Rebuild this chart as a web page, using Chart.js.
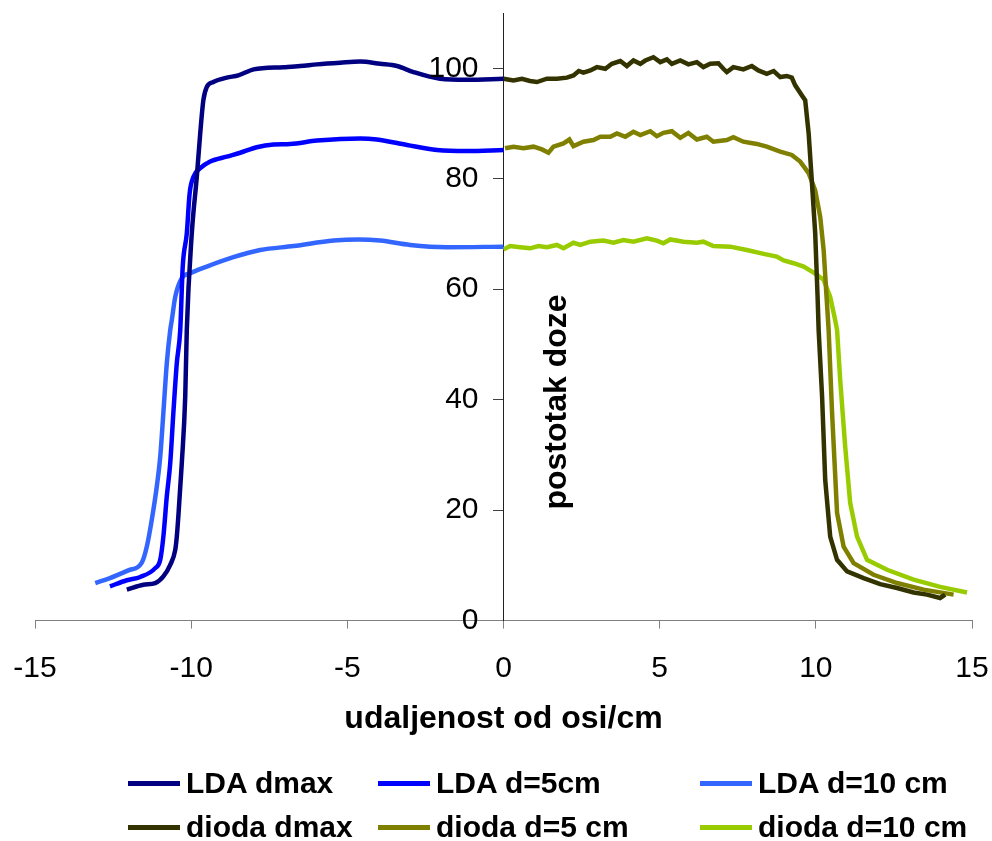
<!DOCTYPE html>
<html>
<head>
<meta charset="utf-8">
<script src="https://cdn.jsdelivr.net/npm/chart.js@4"></script>
<style>
  html, body { margin: 0; padding: 0; background: #fff; }
  #wrap { position: relative; width: 992px; height: 841px; }
  #legend { position: absolute; left: 0; top: 761px; width: 992px; font-family: "Liberation Sans", Arial, sans-serif; font-weight: bold; font-size: 30px; color: #000; }
  .item { position: absolute; height: 44px; display: flex; align-items: center; white-space: nowrap; }
  .swatch { width: 52px; height: 5px; margin-right: 6px; }
</style>
</head>
<body>
<div id="wrap">
  <canvas id="c" width="992" height="841"></canvas>
  <div id="legend"></div>
</div>
<script>
// ---- Data ----
const xTitle = 'udaljenost od osi/cm';
const yTitle = 'postotak doze';
const xTicks = [-15, -10, -5, 0, 5, 10, 15];
const yTicks = [0, 20, 40, 60, 80, 100];

const seriesNames = ['LDA dmax', 'LDA d=5cm', 'LDA d=10 cm', 'dioda dmax', 'dioda d=5 cm', 'dioda d=10 cm'];
const seriesColors = ['#000080', '#0000FF', '#3366FF', '#333300', '#808000', '#99CC00'];

const ldaDmaxX = [-12.06, -11.53, -11.15, -10.89, -10.67, -10.51, -10.46, -10.41, -10.30, -10.19, -10.14, -9.98, -9.82, -9.71, -9.61, -9.50, -9.29, -8.86, -8.49, -8.0, -7.04, -6.51, -5.97, -5.23, -4.59, -3.95, -3.41, -2.88, -2.03, -1.17, 0];
const ldaDmaxY = [5.6, 6.5, 6.8, 8.0, 10.1, 12.8, 15.2, 18.9, 28.5, 40.6, 52.6, 70.1, 80.3, 88.2, 94.2, 96.6, 97.5, 98.3, 98.7, 99.8, 100.2, 100.4, 100.7, 101.0, 101.2, 100.8, 100.4, 99.3, 98.1, 97.9, 98.1];

const lda5X = [-12.60, -12.06, -11.63, -11.15, -10.99, -10.89, -10.78, -10.67, -10.57, -10.46, -10.35, -10.27, -10.14, -10.05, -9.93, -9.71, -9.39, -8.86, -8.43, -7.90, -7.36, -6.83, -5.97, -4.59, -4.05, -3.09, -2.13, -1.17, 0];
const lda5Y = [6.2, 7.3, 7.9, 9.5, 11.0, 15.2, 22.5, 28.5, 37.6, 46.6, 52.6, 64.1, 70.1, 77.3, 80.3, 81.9, 83.1, 84.0, 84.7, 85.7, 86.2, 86.3, 86.9, 87.3, 87.1, 86.1, 85.2, 85.0, 85.2];

const lda10X = [-13.07, -12.60, -12.01, -11.58, -11.42, -11.26, -11.10, -10.99, -10.89, -10.78, -10.67, -10.62, -10.51, -10.30, -10.03, -9.50, -8.65, -7.79, -6.72, -5.44, -4.64, -3.95, -2.99, -1.81, 0];
const lda10Y = [6.8, 7.7, 9.1, 10.5, 13.4, 18.3, 24.3, 29.7, 37.6, 46.6, 52.6, 54.4, 58.6, 62.0, 62.9, 64.1, 65.8, 67.1, 67.8, 68.8, 69.0, 68.8, 68.0, 67.6, 67.7];

const diodeDmaxX = [0.0, 0.32, 0.59, 0.85, 1.07, 1.39, 1.71, 2.03, 2.24, 2.41, 2.56, 2.78, 2.99, 3.26, 3.47, 3.74, 3.95, 4.16, 4.38, 4.54, 4.80, 5.02, 5.23, 5.39, 5.66, 5.92, 6.19, 6.40, 6.62, 6.88, 7.04, 7.15, 7.36, 7.68, 7.95, 8.16, 8.43, 8.65, 8.86, 9.07, 9.23, 9.34, 9.55, 9.66, 9.77, 9.87, 9.98, 10.06, 10.09, 10.20, 10.30, 10.46, 10.68, 11.00, 11.53, 12.06, 12.60, 13.13, 13.56, 13.98, 14.14];
const diodeDmaxY = [98.1, 97.8, 98.1, 97.7, 97.5, 98.1, 98.1, 98.3, 98.7, 99.5, 99.2, 99.6, 100.2, 99.9, 100.8, 101.3, 100.4, 101.4, 100.8, 101.4, 102.0, 101.1, 101.6, 100.8, 101.4, 100.7, 101.1, 100.2, 100.8, 100.9, 99.9, 99.3, 100.2, 99.8, 100.4, 99.6, 99.0, 99.5, 98.4, 98.6, 98.3, 96.9, 95.1, 94.2, 88.2, 79.7, 70.1, 58.0, 52.6, 40.6, 25.5, 15.2, 11.0, 8.9, 7.7, 6.6, 5.9, 5.1, 4.7, 4.1, 4.7];

const diode5X = [0.05, 0.32, 0.64, 0.96, 1.23, 1.44, 1.60, 1.92, 2.11, 2.24, 2.56, 2.88, 3.10, 3.42, 3.63, 3.90, 4.16, 4.38, 4.70, 4.91, 5.12, 5.39, 5.66, 5.92, 6.19, 6.51, 6.72, 7.15, 7.36, 7.68, 8.11, 8.43, 8.86, 9.23, 9.50, 9.77, 9.98, 10.14, 10.25, 10.35, 10.41, 10.52, 10.68, 10.89, 11.21, 11.85, 12.60, 13.45, 14.41];
const diode5Y = [85.5, 85.8, 85.5, 85.8, 85.3, 84.7, 85.8, 86.4, 87.1, 85.9, 86.7, 87.0, 87.6, 87.6, 88.2, 87.6, 88.5, 87.9, 88.6, 87.7, 88.3, 88.6, 87.4, 88.3, 87.1, 87.6, 86.7, 87.0, 87.5, 86.7, 86.3, 85.8, 84.9, 84.3, 83.1, 81.0, 77.9, 73.1, 67.1, 58.0, 52.6, 37.6, 19.5, 13.4, 10.4, 8.3, 6.8, 5.6, 4.7];

const diode10X = [0.0, 0.21, 0.53, 0.85, 1.12, 1.39, 1.71, 1.92, 2.24, 2.46, 2.78, 3.20, 3.52, 3.84, 4.16, 4.59, 4.91, 5.12, 5.34, 5.76, 6.19, 6.40, 6.72, 7.26, 7.79, 8.33, 8.75, 8.97, 9.29, 9.61, 9.93, 10.25, 10.46, 10.62, 10.68, 10.78, 10.94, 11.10, 11.32, 11.64, 12.28, 13.13, 13.98, 14.84];
const diode10Y = [67.2, 67.8, 67.6, 67.4, 67.8, 67.6, 68.0, 67.4, 68.4, 68.0, 68.6, 68.8, 68.4, 68.9, 68.6, 69.2, 68.8, 68.3, 69.0, 68.6, 68.4, 68.6, 67.8, 67.7, 67.1, 66.4, 65.9, 65.2, 64.7, 64.1, 63.0, 61.7, 58.6, 54.4, 52.6, 43.6, 31.5, 21.3, 15.2, 11.0, 9.2, 7.4, 6.1, 5.1];

const seriesX = [ldaDmaxX, lda5X, lda10X, diodeDmaxX, diode5X, diode10X];
const seriesY = [ldaDmaxY, lda5Y, lda10Y, diodeDmaxY, diode5Y, diode10Y];

const FONT = '"Liberation Sans", Arial, sans-serif';

const datasets = seriesNames.map((name, i) => ({
  label: name,
  data: seriesX[i].map((x, j) => ({ x: x, y: seriesY[i][j] })),
  borderColor: seriesColors[i],
  backgroundColor: seriesColors[i],
  borderWidth: 4.5,
  pointRadius: 0,
  fill: false,
  cubicInterpolationMode: i < 3 ? 'monotone' : 'default',
  tension: 0
}));

// y-axis tick labels (left of the centred axis) and rotated y title
const yAxisTextPlugin = {
  id: 'yAxisText',
  afterDraw(chart) {
    const ctx = chart.ctx;
    const ys = chart.scales.y, xs = chart.scales.x;
    const ax = xs.getPixelForValue(0);
    ctx.save();
    ctx.font = '30px ' + FONT;
    ctx.fillStyle = '#000';
    ctx.textAlign = 'right';
    ctx.textBaseline = 'middle';
    yTicks.forEach(v => ctx.fillText(String(v), ax - 25, ys.getPixelForValue(v)));
    ctx.restore();

    ctx.save();
    ctx.translate(557, 402);
    ctx.rotate(-Math.PI / 2);
    ctx.font = 'bold 32px ' + FONT;
    ctx.fillStyle = '#000';
    ctx.textAlign = 'center';
    ctx.textBaseline = 'middle';
    ctx.fillText(yTitle, 0, 0);
    ctx.restore();
  }
};

const chart = new Chart(document.getElementById('c'), {
  type: 'line',
  data: { datasets },
  plugins: [yAxisTextPlugin],
  options: {
    responsive: false,
    animation: false,
    devicePixelRatio: 1,
    layout: { padding: { left: 35, right: 20, top: 13, bottom: 103 } },
    plugins: { legend: { display: false }, tooltip: { enabled: false } },
    scales: {
      x: {
        type: 'linear',
        min: -15, max: 15,
        afterBuildTicks(s) { s.ticks = xTicks.map(v => ({ value: v })); },
        afterFit(s) { s.paddingLeft = 0; s.paddingRight = 0; },
        ticks: { font: { family: FONT, size: 30 }, color: '#000', padding: 22, maxRotation: 0 },
        grid: { drawOnChartArea: false, drawTicks: true, tickLength: 8, color: '#808080' },
        border: { color: '#808080', width: 1 },
        title: { display: true, text: xTitle, font: { family: FONT, size: 32, weight: 'bold' }, color: '#000', padding: { top: -9, bottom: 0 } }
      },
      y: {
        type: 'linear',
        min: 0, max: 110,
        position: { x: 0 },
        afterBuildTicks(s) { s.ticks = yTicks.map(v => ({ value: v })); },
        afterFit(s) { s.paddingTop = 0; s.paddingBottom = 0; },
        ticks: { display: false },
        grid: { drawOnChartArea: false, drawTicks: true, tickLength: 10, color: '#404040' },
        border: { color: '#202020', width: 1 }
      }
    }
  }
});

// HTML legend, 3 columns x 2 rows, built from the datasets
const colLeft = [128, 378, 700];
const legend = document.getElementById('legend');
chart.data.datasets.forEach((ds, i) => {
  const item = document.createElement('div');
  item.className = 'item';
  item.style.left = colLeft[i % 3] + 'px';
  item.style.top = (Math.floor(i / 3) * 44) + 'px';
  const sw = document.createElement('span');
  sw.className = 'swatch';
  sw.style.background = ds.borderColor;
  const tx = document.createElement('span');
  tx.textContent = ds.label;
  item.appendChild(sw);
  item.appendChild(tx);
  legend.appendChild(item);
});
</script>
</body>
</html>
